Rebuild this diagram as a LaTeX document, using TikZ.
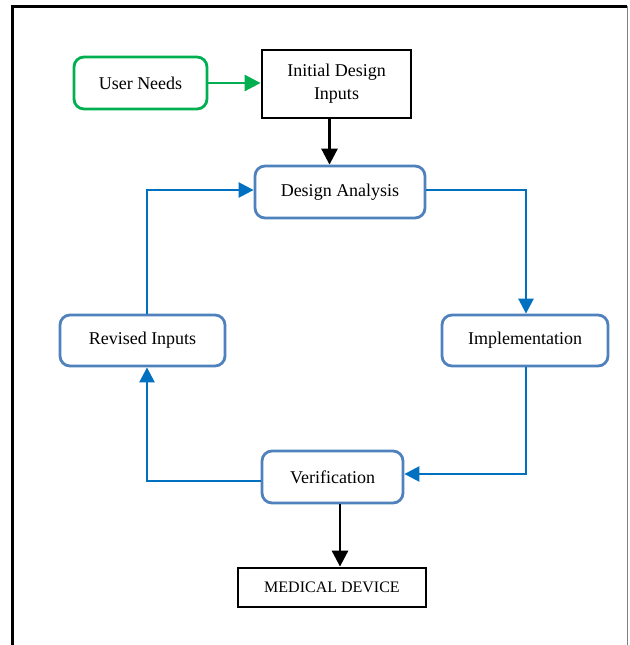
\documentclass[tikz,border=0pt]{standalone}
\usepackage{fontspec}
\setmainfont{Liberation Serif}
\usetikzlibrary{arrows.meta}
\definecolor{nodeblue}{HTML}{4F81BD}
\definecolor{arrblue}{HTML}{0070C0}
\definecolor{ngreen}{HTML}{00B050}
\begin{document}
\begin{tikzpicture}[x=1pt,y=-1pt,
  rbox/.style={draw=nodeblue,line width=2.8pt,rounded corners=10pt,fill=white,inner sep=0pt,font=\fontsize{18}{21}\selectfont},
  gbox/.style={draw=ngreen,line width=2.8pt,rounded corners=10pt,fill=white,inner sep=0pt,font=\fontsize{18}{21}\selectfont},
  kbox/.style={draw=black,line width=2.8pt,fill=white,inner sep=0pt,align=center,font=\fontsize{18}{23}\selectfont},
  barrow/.style={draw=arrblue,line width=2.6pt,-{Triangle[length=15pt,width=15pt]}},
  karrow/.style={draw=black,line width=2.8pt,-{Triangle[length=16pt,width=16pt]}},
  garrow/.style={draw=ngreen,line width=2.8pt,-{Triangle[length=16pt,width=16pt]}}]
\useasboundingbox (0,0) rectangle (629,645);
% frame
\draw[black,line width=2.4pt] (12.5,645) -- (12.5,6.5) -- (627,6.5);
\draw[gray,line width=1.4pt] (627.5,6) -- (627.5,645);
% nodes
\node[gbox,minimum width=133pt,minimum height=52pt] (user) at (140.5,83) {User Needs};
\node[kbox,minimum width=149pt,minimum height=68pt] (init) at (336.5,84) {Initial Design\\Inputs};
\node[rbox,minimum width=170pt,minimum height=52pt] (da) at (340,192) {Design Analysis};
\node[rbox,minimum width=166pt,minimum height=51pt] (impl) at (525,340.5) {Implementation};
\node[rbox,minimum width=165pt,minimum height=51pt] (rev) at (142.5,340.5) {Revised Inputs};
\node[rbox,minimum width=141pt,minimum height=52pt] (ver) at (332.5,477) {Verification};
\node[kbox,minimum width=188pt,minimum height=39pt,font=\fontsize{16}{19}\selectfont] (med) at (332,587.5) {MEDICAL DEVICE};
% connectors
\draw[garrow] (user.east |- 0,83) -- (init.west |- 0,83);
\draw[karrow] (init.south -| 329.5,0) -- (da.north -| 329.5,0);
\draw[barrow] (da.east |- 0,190) -| (impl.north -| 526,0);
\draw[barrow] (impl.south -| 526,0) |- (ver.east |- 0,474);
\draw[barrow] (ver.west |- 0,481) -| (rev.south -| 147,0);
\draw[barrow] (rev.north -| 147,0) |- (da.west |- 0,190);
\draw[karrow] (ver.south -| 340,0) -- (med.north -| 340,0);
\end{tikzpicture}
\end{document}
